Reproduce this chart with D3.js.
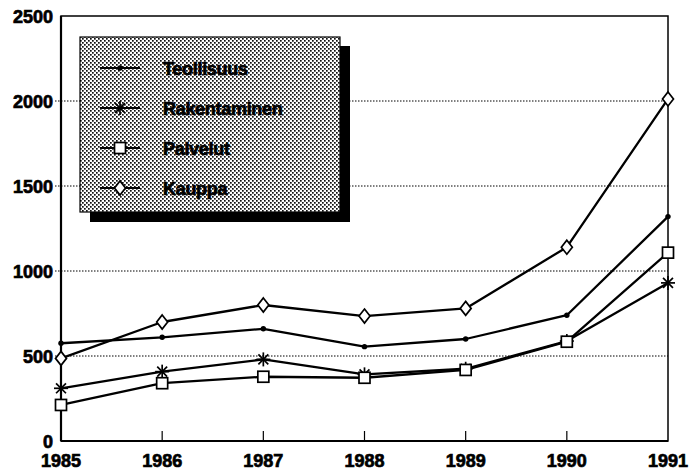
<!DOCTYPE html>
<html>
<head>
<meta charset="utf-8">
<script src="https://cdn.jsdelivr.net/npm/d3@7"></script>
<style>
  body { margin: 0; background: #fff; }
  svg text { font-family: "Liberation Sans", Arial, sans-serif; font-weight: bold; fill: #000; stroke: #000; stroke-width: 0.7px; }
</style>
</head>
<body>
<div id="chart"></div>
<script>
// -----------------------------
// Data
// -----------------------------
const years = [1985, 1986, 1987, 1988, 1989, 1990, 1991];
const teollisuus = [575, 610, 660, 555, 600, 740, 1320];
const rakentaminen = [310, 408, 480, 392, 425, 588, 930];
const palvelut = [212, 340, 378, 372, 418, 584, 1108];
const kauppa = [486, 700, 800, 735, 780, 1140, 2012];
const seriesNames = ["Teollisuus", "Rakentaminen", "Palvelut", "Kauppa"];
const seriesMarkers = ["dot", "star", "square", "diamond"];
const yTicks = [0, 500, 1000, 1500, 2000, 2500];

const series = [teollisuus, rakentaminen, palvelut, kauppa].map((vals, i) => ({
  name: seriesNames[i],
  marker: seriesMarkers[i],
  values: vals.map((v, j) => ({ year: years[j], value: v }))
}));

// -----------------------------
// Sizing
// -----------------------------
const width = 689, height = 470;
const margin = { top: 16, right: 21, bottom: 29, left: 61 };
const innerW = width - margin.left - margin.right;
const innerH = height - margin.top - margin.bottom;

const svg = d3.select("#chart").append("svg")
  .attr("width", width)
  .attr("height", height);

// stippled legend fill
const defs = svg.append("defs");
const pat = defs.append("pattern")
  .attr("id", "stipple")
  .attr("width", 4).attr("height", 4)
  .attr("patternUnits", "userSpaceOnUse");
pat.append("rect").attr("width", 4).attr("height", 4).attr("fill", "#fff");
pat.append("rect").attr("x", 0).attr("y", 0).attr("width", 1.7).attr("height", 1.7).attr("fill", "#111");
pat.append("rect").attr("x", 2).attr("y", 2).attr("width", 1.7).attr("height", 1.7).attr("fill", "#111");

const x = d3.scaleLinear().domain([1985, 1991]).range([margin.left, margin.left + innerW]);
const y = d3.scaleLinear().domain([0, 2500]).range([margin.top + innerH, margin.top]);

// -----------------------------
// Grid lines (dotted)
// -----------------------------
svg.append("g")
  .selectAll("line")
  .data(yTicks.filter(t => t > 0 && t < 2500))
  .join("line")
  .attr("x1", margin.left - 6)
  .attr("x2", margin.left + innerW)
  .attr("y1", d => y(d))
  .attr("y2", d => y(d))
  .attr("stroke", "#000")
  .attr("stroke-width", 1)
  .attr("stroke-dasharray", "1.5,1.5");

// Frame
svg.append("rect")
  .attr("x", margin.left).attr("y", margin.top)
  .attr("width", innerW).attr("height", innerH)
  .attr("fill", "none")
  .attr("stroke", "#000")
  .attr("stroke-width", 1.5);
svg.append("line")
  .attr("x1", margin.left).attr("x2", margin.left)
  .attr("y1", margin.top).attr("y2", margin.top + innerH)
  .attr("stroke", "#000").attr("stroke-width", 2.2);
svg.append("line")
  .attr("x1", margin.left).attr("x2", margin.left + innerW)
  .attr("y1", margin.top + innerH).attr("y2", margin.top + innerH)
  .attr("stroke", "#000").attr("stroke-width", 2);

// X ticks (inward)
svg.append("g")
  .selectAll("line")
  .data(years.slice(1, -1))
  .join("line")
  .attr("x1", d => x(d)).attr("x2", d => x(d))
  .attr("y1", margin.top + innerH).attr("y2", margin.top + innerH - 10)
  .attr("stroke", "#000").attr("stroke-width", 1.2);

// Axis labels
svg.append("g")
  .selectAll("text")
  .data(yTicks)
  .join("text")
  .attr("x", 53)
  .attr("y", d => y(d) + 7)
  .attr("text-anchor", "end")
  .style("font-size", "18px")
  .text(d => d);

svg.append("g")
  .selectAll("text")
  .data(years)
  .join("text")
  .attr("x", d => x(d))
  .attr("y", 467)
  .attr("text-anchor", "middle")
  .style("font-size", "18px")
  .text(d => d);

// -----------------------------
// Markers
// -----------------------------
function drawMarker(g, type, cx, cy) {
  if (type === "dot") {
    g.append("circle").attr("cx", cx).attr("cy", cy).attr("r", 2.7).attr("fill", "#000");
  } else if (type === "square") {
    g.append("rect").attr("x", cx - 5.5).attr("y", cy - 5.5).attr("width", 11).attr("height", 11)
      .attr("fill", "#fff").attr("stroke", "#000").attr("stroke-width", 1.7);
  } else if (type === "diamond") {
    g.append("path")
      .attr("d", `M${cx},${cy - 7}L${cx + 5.5},${cy}L${cx},${cy + 7}L${cx - 5.5},${cy}Z`)
      .attr("fill", "#fff").attr("stroke", "#000").attr("stroke-width", 1.7);
  } else if (type === "star") {
    const r = 7;
    for (let k = 0; k < 4; k++) {
      const a = k * Math.PI / 4;
      g.append("line")
        .attr("x1", cx - r * Math.cos(a)).attr("y1", cy - r * Math.sin(a))
        .attr("x2", cx + r * Math.cos(a)).attr("y2", cy + r * Math.sin(a))
        .attr("stroke", "#000").attr("stroke-width", 1.7);
    }
  }
}

// -----------------------------
// Lines
// -----------------------------
const line = d3.line().x(d => x(d.year)).y(d => y(d.value));

const plot = svg.append("g");
series.forEach(s => {
  plot.append("path")
    .datum(s.values)
    .attr("d", line)
    .attr("fill", "none")
    .attr("stroke", "#000")
    .attr("stroke-width", 2.3)
    .attr("stroke-linejoin", "round");
});
series.forEach(s => {
  const g = plot.append("g");
  s.values.forEach(d => drawMarker(g, s.marker, x(d.year), y(d.value)));
});

// -----------------------------
// Legend
// -----------------------------
const legend = svg.append("g");
legend.append("rect")
  .attr("x", 90).attr("y", 46).attr("width", 260).attr("height", 176)
  .attr("fill", "#000");
legend.append("rect")
  .attr("x", 80).attr("y", 37).attr("width", 260).attr("height", 175)
  .attr("fill", "url(#stipple)")
  .attr("stroke", "#000").attr("stroke-width", 1.2);

series.forEach((s, i) => {
  const ly = 68 + i * 40;
  legend.append("line")
    .attr("x1", 100).attr("x2", 140)
    .attr("y1", ly).attr("y2", ly)
    .attr("stroke", "#000").attr("stroke-width", 2.2);
  drawMarker(legend, s.marker, 120, ly);
  legend.append("text")
    .attr("x", 163).attr("y", ly + 7)
    .style("font-size", "18px")
    .style("letter-spacing", "-0.3px")
    .text(s.name);
});
</script>
</body>
</html>
